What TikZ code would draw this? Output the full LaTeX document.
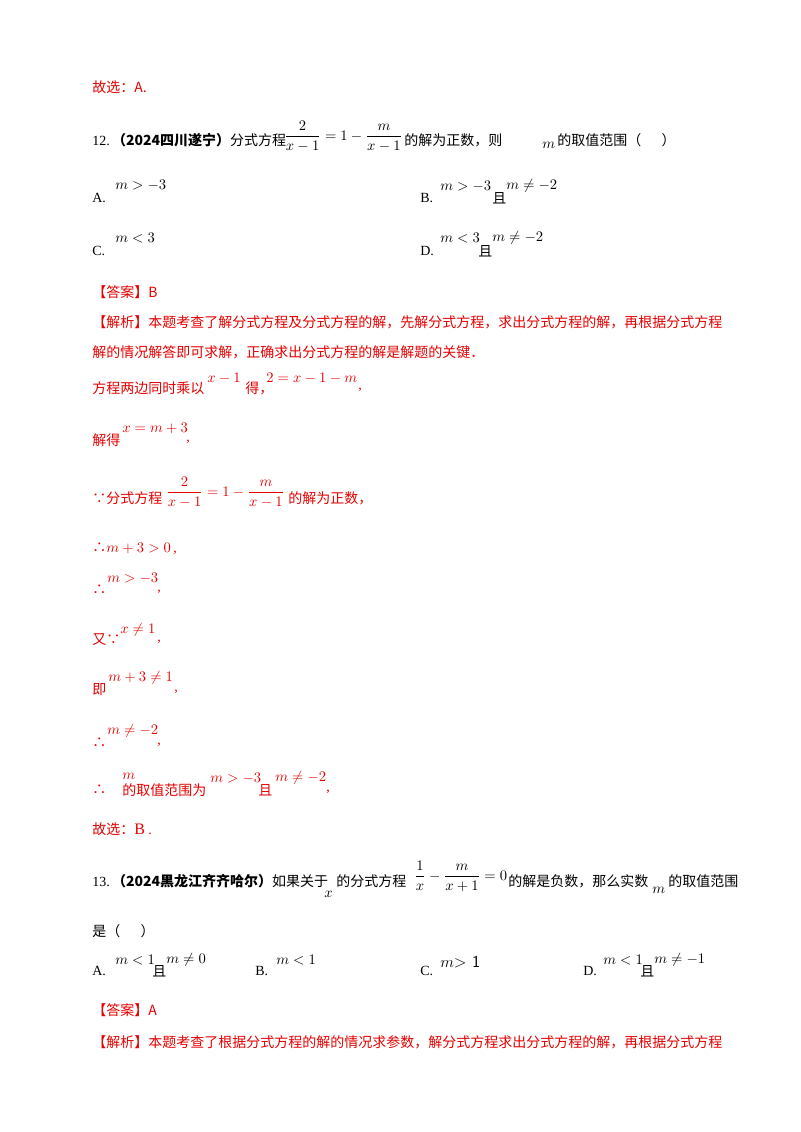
\documentclass[tikz,border=0pt]{standalone}
\usepackage{amsmath}
\usepackage{fontspec}
\setmainfont{Liberation Serif}
\newfontfamily\cjk{Noto Sans CJK SC}
\definecolor{rd}{RGB}{230,0,0}
\begin{document}
\begin{tikzpicture}[x=0.75pt,y=-0.75pt,
  t/.style={anchor=west,inner sep=0pt,font=\fontsize{10.5}{12}\selectfont},
  r/.style={t,text=rd}]
\useasboundingbox (0,0) rectangle (800,1132);
\fill[white] (0,0) rectangle (800,1132);
\node[r] (l1) at (92,87) {\cjk 故选：A.};
\node[t] (q12) at (92,140) {12.\,{\cjk\bfseries （2024四川遂宁）}{\cjk 分式方程}};
\node[t] (q12f) at (284,136) {$\dfrac{2}{x-1}=1-\dfrac{m}{x-1}$};
\node[t] (q12t) at (404,140) {\cjk 的解为正数，则};
\node[t] (q12m) at (542,145) {$m$};
\node[t] (q12e) at (557,140) {\cjk 的取值范围（\quad\ \ ）};
\node[t] (a1) at (92,198) {A.};
\node[t] (a1m) at (115,185) {$m>-3$};
\node[t] (b1) at (420,198) {B.};
\node[t] (b1m) at (440,186) {$m>-3$};
\node[t] (b1q) at (492,198) {\cjk 且};
\node[t] (b1n) at (506,186) {$m\neq-2$};
\node[t] (c1) at (92,251) {C.};
\node[t] (c1m) at (115,238) {$m<3$};
\node[t] (d1) at (420,251) {D.};
\node[t] (d1m) at (440,238) {$m<3$};
\node[t] (d1q) at (478,251) {\cjk 且};
\node[t] (d1n) at (492,238) {$m\neq-2$};
\node[r] (ans) at (92,292) {\cjk 【答案】B};
\node[r] (jx) at (92,322) {\cjk 【解析】本题考查了解分式方程及分式方程的解，先解分式方程，求出分式方程的解，再根据分式方程};
\node[r] (jx2) at (92,352) {\cjk 解的情况解答即可求解，正确求出分式方程的解是解题的关键．};
\node[r] (s1) at (92,388) {\cjk 方程两边同时乘以};
\node[r] (s1m) at (207,378) {$x-1$};
\node[r] (s1d) at (245,388) {\cjk 得，};
\node[r] (s1e) at (266,378) {$2=x-1-m$};
\node[r] (s1c) at (358,390) {,};
\node[r] (s2) at (92,440) {\cjk 解得};
\node[r] (s2m) at (122,428) {$x=m+3$};
\node[r] (s2c) at (186,442) {,};
\node[r] (s3) at (92,498) {\cjk ∵分式方程};
\node[r] (s3m) at (166,492) {$\dfrac{2}{x-1}=1-\dfrac{m}{x-1}$};
\node[r] (s3e) at (288,498) {\cjk 的解为正数，};
\node[r] (s4) at (92,549) {{\cjk ∴}$m+3>0$\,,};
\node[r] (s5) at (92,590) {\cjk ∴};
\node[r] (s5m) at (107,578) {$m>-3$};
\node[r] (s5c) at (157,592) {,};
\node[r] (s6) at (92,640) {\cjk 又∵};
\node[r] (s6m) at (120,630) {$x\neq1$};
\node[r] (s6c) at (157,642) {,};
\node[r] (s7) at (92,690) {\cjk 即};
\node[r] (s7m) at (108,678) {$m+3\neq1$};
\node[r] (s7c) at (174,692) {,};
\node[r] (s8) at (92,743) {\cjk ∴};
\node[r] (s8m) at (107,731) {$m\neq-2$};
\node[r] (s8c) at (157,745) {,};
\node[r] (s9) at (92,790) {\cjk ∴};
\node[r] (s9m) at (122,776) {$m$};
\node[r] (s9t) at (122,790) {\cjk 的取值范围为};
\node[r] (s9a) at (210,778) {$m>-3$};
\node[r] (s9q) at (258,790) {\cjk 且};
\node[r] (s9b) at (275,778) {$m\neq-2$};
\node[r] (s9c) at (326,792) {,};
\node[r] (s10) at (92,829) {{\cjk 故选：}{\fontsize{12}{12}\selectfont B} .};
\node[t] (q13) at (92,881) {13.\,{\cjk\bfseries （2024黑龙江齐齐哈尔）}{\cjk 如果关于}};
\node[t] (q13x) at (324,894) {$x$};
\node[t] (q13b) at (336,881) {\cjk 的分式方程};
\node[t] (q13m) at (414,876) {$\dfrac{1}{x}-\dfrac{m}{x+1}=0$};
\node[t] (q13c) at (508,881) {\cjk 的解是负数，那么实数};
\node[t] (q13mm) at (652,890) {$m$};
\node[t] (q13d) at (668,881) {\cjk 的取值范围};
\node[t] (q13e) at (92,931) {\cjk 是（\quad\ \ ）};
\node[t] (a2) at (92,971) {A.};
\node[t] (a2m) at (115,960) {$m<1$};
\node[t] (a2q) at (152,971) {\cjk 且};
\node[t] (a2n) at (166,960) {$m\neq0$};
\node[t] (b2) at (255,971) {B.};
\node[t] (b2m) at (276,960) {$m<1$};
\node[t] (c2) at (420,971) {C.};
\node[t] (c2m) at (440,962) {\fontsize{12.5}{12}\selectfont\sffamily $m$> 1};
\node[t] (d2) at (583,971) {D.};
\node[t] (d2m) at (603,960) {$m<1$};
\node[t] (d2q) at (640,971) {\cjk 且};
\node[t] (d2n) at (654,960) {$m\neq-1$};
\node[r] (ans2) at (92,1010) {\cjk 【答案】A};
\node[r] (jx3) at (92,1042) {\cjk 【解析】本题考查了根据分式方程的解的情况求参数，解分式方程求出分式方程的解，再根据分式方程};
\end{tikzpicture}
\end{document}
